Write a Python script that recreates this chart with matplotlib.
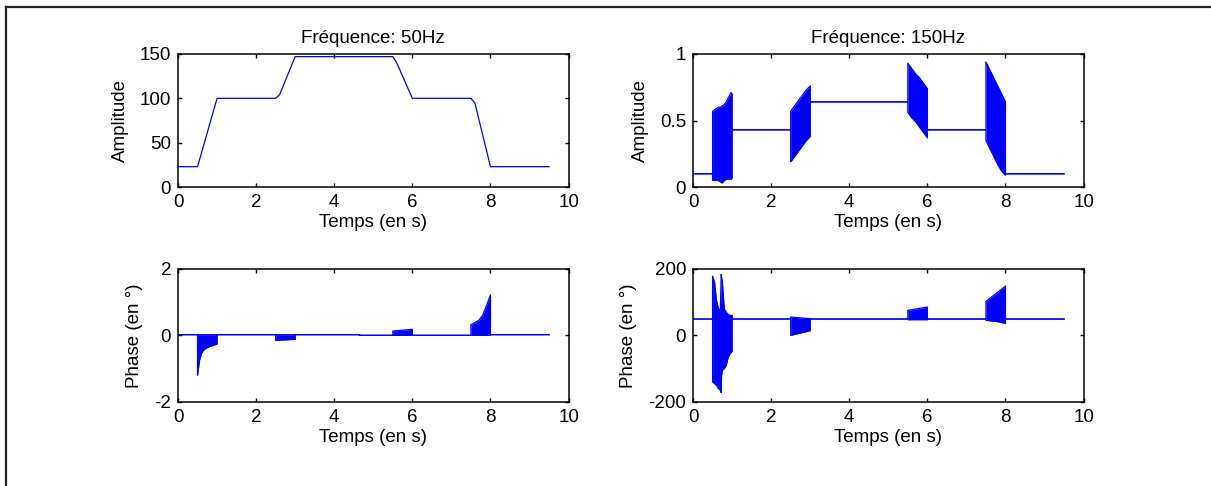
import matplotlib
matplotlib.use("Agg")
import matplotlib.pyplot as plt
from matplotlib.lines import Line2D

plt.rcParams['font.family'] = ['Liberation Sans', 'DejaVu Sans']
plt.rcParams['axes.unicode_minus'] = False

BLUE = '#0000ff'

# amplitude at 50Hz (single line)
t_amp50 = [0.0, 0.5, 1.0, 2.5, 2.6, 3.0, 5.5, 5.6, 6.0, 7.5, 7.6, 8.0, 9.5]
amp50 = [23, 23, 100, 100, 104, 147, 147, 140, 100, 100, 95, 23, 23]

# amplitude at 150Hz: upper / lower envelope of the oscillating parts
t_amp150 = [0.0, 0.5, 0.5, 0.55, 0.6, 0.65, 0.7, 0.75, 0.8, 0.85, 0.9, 0.97, 1.0, 1.0,
            2.5, 2.5, 2.6, 2.7, 2.8, 2.9, 3.0, 3.0,
            5.5, 5.5, 5.6, 5.7, 5.8, 5.9, 6.0, 6.0,
            7.5, 7.5, 7.6, 7.7, 7.8, 7.9, 8.0, 8.0, 9.5]
amp150_hi = [0.10, 0.10, 0.57, 0.58, 0.59, 0.60, 0.60, 0.61, 0.62, 0.64, 0.67, 0.71, 0.70, 0.43,
             0.43, 0.57, 0.61, 0.65, 0.69, 0.73, 0.76, 0.64,
             0.64, 0.93, 0.89, 0.85, 0.82, 0.78, 0.74, 0.43,
             0.43, 0.94, 0.88, 0.82, 0.76, 0.70, 0.64, 0.10, 0.10]
amp150_lo = [0.10, 0.10, 0.05, 0.05, 0.05, 0.05, 0.04, 0.03, 0.05, 0.06, 0.06, 0.06, 0.07, 0.43,
             0.43, 0.19, 0.23, 0.27, 0.31, 0.35, 0.38, 0.64,
             0.64, 0.56, 0.52, 0.49, 0.45, 0.41, 0.37, 0.43,
             0.43, 0.35, 0.29, 0.23, 0.17, 0.12, 0.09, 0.10, 0.10]

# phase at 50Hz
t_ph50 = [0.0, 0.5, 0.5, 0.55, 0.6, 0.65, 0.7, 0.8, 0.9, 1.0, 1.0,
          2.5, 2.5, 3.0, 3.0, 4.65, 4.65, 5.5, 5.5, 6.0, 6.0,
          7.5, 7.5, 7.6, 7.7, 7.8, 7.9, 7.95, 8.0, 8.0, 9.5]
ph50_hi = [0.02, 0.02, 0.02, 0.02, 0.02, 0.02, 0.02, 0.02, 0.02, 0.02, 0.02,
           0.02, 0.02, 0.02, 0.02, 0.02, 0.0, 0.0, 0.13, 0.18, 0.0,
           0.0, 0.32, 0.38, 0.45, 0.60, 0.90, 1.05, 1.22, 0.02, 0.02]
ph50_lo = [0.02, 0.02, -1.2, -0.75, -0.55, -0.45, -0.40, -0.34, -0.30, -0.26, 0.02,
           0.02, -0.15, -0.12, 0.02, 0.02, 0.0, 0.0, 0.0, 0.0, 0.0,
           0.0, 0.0, 0.0, 0.0, 0.0, 0.0, 0.0, 0.0, 0.02, 0.02]

# phase at 150Hz
t_ph150 = [0.0, 0.5, 0.5, 0.55, 0.6, 0.65, 0.7, 0.72, 0.73, 0.75, 0.8, 0.85, 0.9, 0.95, 1.0, 1.0,
           2.5, 2.5, 3.0, 3.0, 5.5, 5.5, 6.0, 6.0,
           7.5, 7.5, 7.75, 8.0, 8.0, 9.5]
ph150_hi = [49, 49, 178, 160, 105, 80, 75, 183, 175, 160, 80, 70, 62, 60, 60, 49,
            49, 55, 50, 49, 49, 75, 85, 49,
            49, 102, 125, 148, 49, 49]
ph150_lo = [49, 49, -140, -145, -150, -160, -165, -172, -120, -105, -100, -90, -65, -55, -48, 49,
            49, 0, 14, 49, 49, 47, 47, 49,
            49, 45, 42, 36, 49, 49]

xticks = [0, 2, 4, 6, 8, 10]
FS = 13.5


def style_axes(ax, ylim, yticks, yticklabels, ylabel, title=None):
    ax.set_xlim(0, 10)
    ax.set_ylim(*ylim)
    ax.set_xticks(xticks)
    ax.set_xticklabels([str(v) for v in xticks])
    ax.set_yticks(yticks)
    ax.set_yticklabels(yticklabels)
    ax.tick_params(direction='in', length=3, width=1, top=True, right=True,
                   labelsize=FS, pad=5)
    for sp in ax.spines.values():
        sp.set_linewidth(1.1)
    ax.set_xlabel('Temps (en s)', fontsize=FS, labelpad=2)
    ax.set_ylabel(ylabel, fontsize=FS, labelpad=8)
    if title:
        ax.set_title(title, fontsize=FS, pad=8)


def draw_band(ax, t, hi, lo):
    ax.fill_between(t, lo, hi, color=BLUE, linewidth=0)
    ax.plot(t, hi, color=BLUE, lw=0.9)
    ax.plot(t, lo, color=BLUE, lw=0.9)


fig = plt.figure(figsize=(12.11, 4.86), dpi=100)

w, h = 0.3225, 0.274
ax1 = fig.add_axes([0.147, 0.615, w, h])
ax2 = fig.add_axes([0.5723, 0.615, w, h])
ax3 = fig.add_axes([0.147, 0.173, w, h])
ax4 = fig.add_axes([0.5723, 0.173, w, h])

ax1.plot(t_amp50, amp50, color=BLUE, lw=0.9)
style_axes(ax1, (0, 150), [0, 50, 100, 150], ['0', '50', '100', '150'],
           'Amplitude', 'Fréquence: 50Hz')

draw_band(ax2, t_amp150, amp150_hi, amp150_lo)
style_axes(ax2, (0, 1), [0, 0.5, 1], ['0', '0.5', '1'],
           'Amplitude', 'Fréquence: 150Hz')

draw_band(ax3, t_ph50, ph50_hi, ph50_lo)
style_axes(ax3, (-2, 2), [-2, 0, 2], ['-2', '0', '2'], 'Phase (en °)')

draw_band(ax4, t_ph150, ph150_hi, ph150_lo)
style_axes(ax4, (-200, 200), [-200, 0, 200], ['-200', '0', '200'], 'Phase (en °)')

# frame around the figure (only top and left edges are visible)
fx, fy = 6 / 1211, 1 - 7.5 / 486
fig.add_artist(Line2D([fx, 1.0], [fy, fy], transform=fig.transFigure, color='#222222', lw=1.6))
fig.add_artist(Line2D([fx, fx], [0.0, fy], transform=fig.transFigure, color='#222222', lw=1.6))

fig.savefig('out.png', dpi=100)
